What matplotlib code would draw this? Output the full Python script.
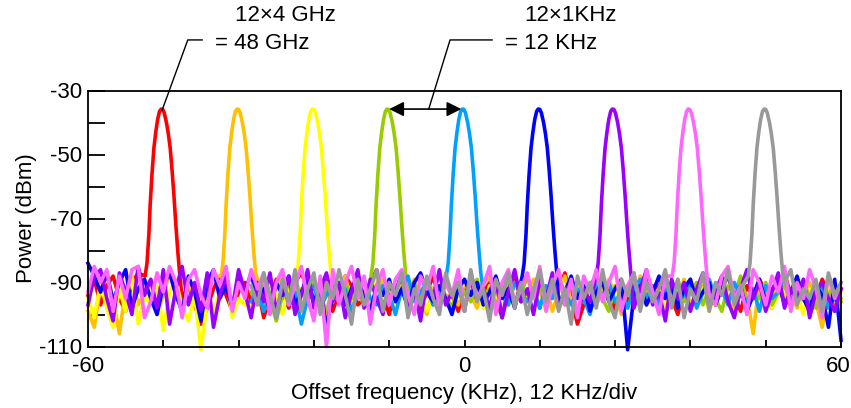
import matplotlib.pyplot as plt
import matplotlib.transforms as mtransforms
import numpy as np

plt.rcParams['font.family'] = ['Liberation Sans', 'DejaVu Sans']

# Peak centres (KHz) and colours of the nine comb lines
colors = ['#ff0000', '#ffc000', '#ffff00', '#99cc00', '#00a0ff',
          '#0000ff', '#9900ff', '#ff66ff', '#999999']
centers = [-48.2, -36.1, -24.1, -12.2, -0.2, 11.9, 23.7, 35.8, 47.9]
noise_start = [-60, -60, -60, -34, -34, -60, -60, -60, -34]

# Peak shape (offset from centre in KHz, level in dBm)
peak_offsets = [-2.7, -2.4, -2.1, -1.9, -1.6, -1.3, -1.0, -0.7, -0.4, -0.15,
                0.1, 0.35, 0.7, 1.0, 1.3, 1.6, 1.9, 2.2, 2.5, 2.8]
peak_levels = [-88, -84, -75, -66, -56, -48, -43, -39, -36.5, -35.8,
               -35.9, -37, -40, -43.5, -48, -55, -63, -72, -80, -87]

# Noise floor of each trace, 1 KHz steps
noise_red = [-94, -89, -97, -91, -88, -95, -99, -90, -87, -93,
             -88, -86, -90, -92, -89, -95, -91, -97, -103, -98,
             -92, -88, -94, -99, -93, -90, -96, -91, -101, -95,
             -89, -93, -98, -90, -87, -92, -96, -94, -89, -99,
             -93, -88, -91, -97, -95, -90, -86, -94, -100, -92,
             -89, -95, -91, -98, -93, -88, -96, -90, -94, -99,
             -92, -89, -97, -93, -90, -95, -101, -91, -88, -96,
             -93, -90, -98, -94, -89, -92, -87, -95, -103, -97,
             -91, -88, -94, -92, -99, -90, -96, -93, -89, -97,
             -94, -91, -88, -95, -100, -92, -89, -97, -93, -90,
             -96, -92, -88, -94, -99, -91, -95, -89, -93, -98,
             -90, -87, -94, -96, -91, -100, -95, -89, -93, -97,
             -92]
noise_orange = [-99, -104, -91, -87, -95, -106, -92, -88, -97, -93,
                -89, -100, -94, -87, -92, -98, -90, -96, -101, -93,
                -88, -95, -91, -97, -102, -90, -94, -89, -96, -99,
                -92, -87, -94, -90, -98, -93, -89, -95, -100, -91,
                -94, -88, -96, -92, -90, -97, -93, -89, -95, -98,
                -91, -94, -89, -96, -100, -92, -88, -95, -93, -97,
                -90, -94, -98, -91, -88, -95, -93, -97, -90, -92,
                -96, -89, -94, -91, -99, -93, -88, -96, -92, -95,
                -90, -97, -93, -89, -94, -100, -91, -96, -88, -93,
                -95, -92, -98, -90, -94, -89, -97, -93, -91, -96,
                -92, -88, -95, -99, -91, -94, -106, -90, -93, -97,
                -89, -95, -92, -98, -94, -90, -96, -104, -93, -99,
                -95]
noise_yellow = [-95, -101, -90, -98, -104, -92, -99, -88, -103, -94,
                -97, -91, -105, -93, -89, -98, -102, -94, -111, -96,
                -99, -93, -88, -101, -95, -97, -97, -92, -96, -90,
                -94, -100, -91, -97, -93, -89, -95, -98, -92, -96,
                -90, -94, -99, -92, -97, -93, -89, -95, -91, -98,
                -93, -90, -96, -92, -99, -94, -91, -97, -93, -95,
                -89, -94, -92, -98, -91, -95, -90, -97, -94, -92,
                -96, -91, -95, -99, -90, -87, -93, -97, -91, -94,
                -92, -96, -89, -95, -93, -98, -91, -94, -90, -97,
                -95, -92, -98, -91, -96, -93, -89, -95, -92, -99,
                -93, -90, -96, -94, -91, -97, -92, -95, -90, -98,
                -94, -91, -97, -93, -100, -92, -95, -98, -91, -96,
                -93]
noise_green = [-93, -97, -91, -95, -102, -94, -90, -98, -92, -96,
               -89, -94, -99, -92, -96, -90, -95, -93, -97, -91,
               -94, -88, -96, -92, -99, -93, -90, -95, -92, -97,
               -91, -94, -98, -90, -93, -96, -89, -95, -92, -97,
               -93, -90, -96, -94, -88, -95, -92, -98, -91, -94,
               -97, -90, -93, -96, -92, -89, -95, -99, -91, -94,
               -92, -97, -90, -95, -93, -98, -91, -94, -89, -96,
               -93, -90, -97, -92, -95, -99, -91, -94, -88, -96,
               -92, -95, -90, -97, -93, -91, -96, -94, -89, -95,
               -98, -92, -94, -90, -96]
noise_lightblue = [-96, -92, -99, -94, -101, -90, -97, -93, -103, -95,
                   -91, -98, -94, -90, -96, -92, -99, -93, -89, -95,
                   -97, -91, -94, -100, -92, -88, -96, -93, -90, -97,
                   -94, -91, -98, -92, -95, -89, -96, -93, -99, -91,
                   -94, -97, -90, -93, -96, -92, -98, -91, -95, -89,
                   -93, -97, -92, -95, -100, -91, -94, -90, -96, -93,
                   -98, -92, -89, -95, -91, -97, -93, -90, -96, -94,
                   -91, -98, -93, -89, -95, -92, -97, -90, -94, -96,
                   -92, -99, -91, -95, -93, -88, -96, -94, -90, -97,
                   -93, -91, -98, -95, -92]
noise_blue = [-84, -88, -93, -87, -96, -90, -86, -98, -92, -89,
              -95, -100, -91, -87, -94, -99, -88, -93, -102, -90,
              -86, -95, -91, -98, -89, -93, -87, -96, -92, -99,
              -90, -94, -88, -97, -93, -89, -96, -91, -104, -94,
              -90, -97, -92, -88, -95, -99, -91, -94, -89, -96,
              -92, -98, -90, -87, -93, -96, -91, -95, -100, -92,
              -89, -94, -90, -97, -93, -88, -95, -92, -98, -91,
              -94, -89, -96, -92, -90, -97, -93, -88, -95, -91,
              -99, -93, -90, -96, -92, -89, -111, -94, -91, -97,
              -93, -88, -95, -91, -98, -92, -89, -96, -93, -90,
              -97, -92, -87, -95, -91, -99, -94, -89, -96, -92,
              -90, -97, -93, -88, -95, -99, -91, -94, -104, -89,
              -108]
noise_purple = [-97, -88, -86, -95, -102, -87, -93, -100, -85, -94,
                -89, -98, -86, -103, -92, -85, -97, -90, -99, -87,
                -104, -94, -88, -98, -86, -93, -101, -90, -96, -87,
                -99, -92, -88, -100, -94, -86, -98, -92, -87, -96,
                -90, -101, -93, -86, -98, -89, -95, -100, -90, -93,
                -87, -98, -92, -102, -89, -95, -86, -97, -93, -90,
                -99, -87, -95, -92, -98, -89, -101, -93, -86, -96,
                -92, -100, -89, -95, -87, -98, -93, -90, -101, -92,
                -96, -87, -93, -99, -90, -95, -88, -98, -92, -86,
                -97, -93, -102, -89, -95, -90, -99, -92, -87, -98,
                -93, -88, -96, -101, -92, -86, -95, -90, -99, -93,
                -87, -98, -92, -96, -89, -101, -93, -90, -95, -99,
                -92]
noise_pink = [-93, -85, -90, -86, -99, -88, -95, -86, -85, -101,
              -96, -87, -93, -85, -90, -101, -89, -86, -94, -98,
              -86, -91, -85, -99, -90, -95, -86, -92, -87, -100,
              -90, -86, -97, -91, -85, -95, -102, -88, -110, -86,
              -97, -90, -85, -95, -88, -103, -91, -86, -97, -89,
              -86, -94, -100, -88, -92, -85, -98, -90, -94, -86,
              -99, -88, -95, -91, -85, -100, -90, -86, -97, -92,
              -87, -95, -85, -99, -91, -86, -97, -89, -101, -88,
              -93, -86, -96, -90, -85, -99, -91, -87, -97, -86,
              -93, -100, -88, -92, -85, -96, -90, -99, -86, -94,
              -97, -88, -85, -95, -91, -100, -86, -90, -97, -88,
              -93, -85, -99, -90, -95, -86, -92, -101, -88, -95,
              -90]
noise_gray = [-91, -97, -87, -94, -101, -89, -96, -86, -99, -92,
              -87, -100, -90, -95, -86, -94, -103, -89, -97, -92,
              -86, -99, -90, -94, -87, -101, -92, -97, -88, -95,
              -100, -87, -94, -90, -99, -86, -96, -92, -102, -89,
              -94, -87, -98, -90, -100, -92, -86, -96, -89, -99,
              -92, -103, -88, -95, -90, -98, -86, -96, -101, -89,
              -94, -87, -99, -90, -96, -92, -86, -98, -89, -101,
              -92, -96, -87, -99, -90, -94, -86, -97, -92, -100,
              -89, -96, -87, -94, -99, -90, -86, -97, -92, -95,
              -89, -99, -87, -94, -90]

noises = [noise_red, noise_orange, noise_yellow, noise_green, noise_lightblue,
          noise_blue, noise_purple, noise_pink, noise_gray]


def build_trace(start, noise, center):
    x = start + np.arange(len(noise), dtype=float)
    y = np.array(noise, dtype=float)
    keep = np.abs(x - center) >= 3.0
    xs = np.concatenate([x[keep], center + np.array(peak_offsets)])
    ys = np.concatenate([y[keep], np.array(peak_levels)])
    order = np.argsort(xs)
    return xs[order], ys[order]


fig = plt.figure(figsize=(8.51, 4.08), dpi=100)
ax = fig.add_axes([88 / 851, 1 - 346.5 / 408, 753 / 851, 256 / 408])

for start, noise, c, col in zip(noise_start, noises, centers, colors):
    xs, ys = build_trace(start, noise, c)
    ax.plot(xs, ys, color=col, lw=2.6, clip_on=False, solid_joinstyle='round')

ax.set_xlim(-60, 60)
ax.set_ylim(-110, -30)

ax.set_xticks(np.arange(-60, 61, 12))
ax.set_xticklabels(['-60', '', '', '', '', '0', '', '', '', '', '60'])
ax.set_yticks(np.arange(-110, -29, 10))
ax.set_yticklabels(['-110', '', '-90', '', '-70', '', '-50', '', '-30'])
ax.tick_params(axis='x', direction='in', length=5, width=1.3, pad=7,
               labelsize=16)
ax.tick_params(axis='y', direction='in', length=12.5, width=1.3, pad=4,
               labelsize=16)
for s in ax.spines.values():
    s.set_linewidth(1.3)

# keep the "60" label inside the figure
last = ax.get_xticklabels()[-1]
last.set_transform(last.get_transform() +
                   mtransforms.ScaledTranslation(-3 / 100, 0, fig.dpi_scale_trans))

ax.set_xlabel('Offset frequency (KHz), 12 KHz/div', fontsize=16, labelpad=4)
ax.set_ylabel('Power (dBm)', fontsize=16, labelpad=2)

# Annotation: total span of the comb
ax.text(-36.6, -6.7, '12×4 GHz', fontsize=16, ha='left', va='center')
ax.text(-39.8, -15.2, '= 48 GHz', fontsize=16, ha='left', va='center')
ax.plot([-41.8, -44.1, -48.2], [-14.2, -14.2, -36.2], color='k', lw=1,
        clip_on=False)

# Annotation: spacing between adjacent lines
ax.annotate('', xy=(-0.5, -35.8), xytext=(-12.0, -35.8),
            arrowprops=dict(arrowstyle='<|-|>', color='k', lw=1.2,
                            mutation_scale=22, shrinkA=0, shrinkB=0))
ax.text(9.6, -6.7, '12×1KHz', fontsize=16, ha='left', va='center')
ax.text(6.4, -15.2, '= 12 KHz', fontsize=16, ha='left', va='center')
ax.plot([4.4, -2.3, -5.7], [-14.2, -14.2, -35.8], color='k', lw=1,
        clip_on=False)

plt.savefig('out.png', dpi=100)
